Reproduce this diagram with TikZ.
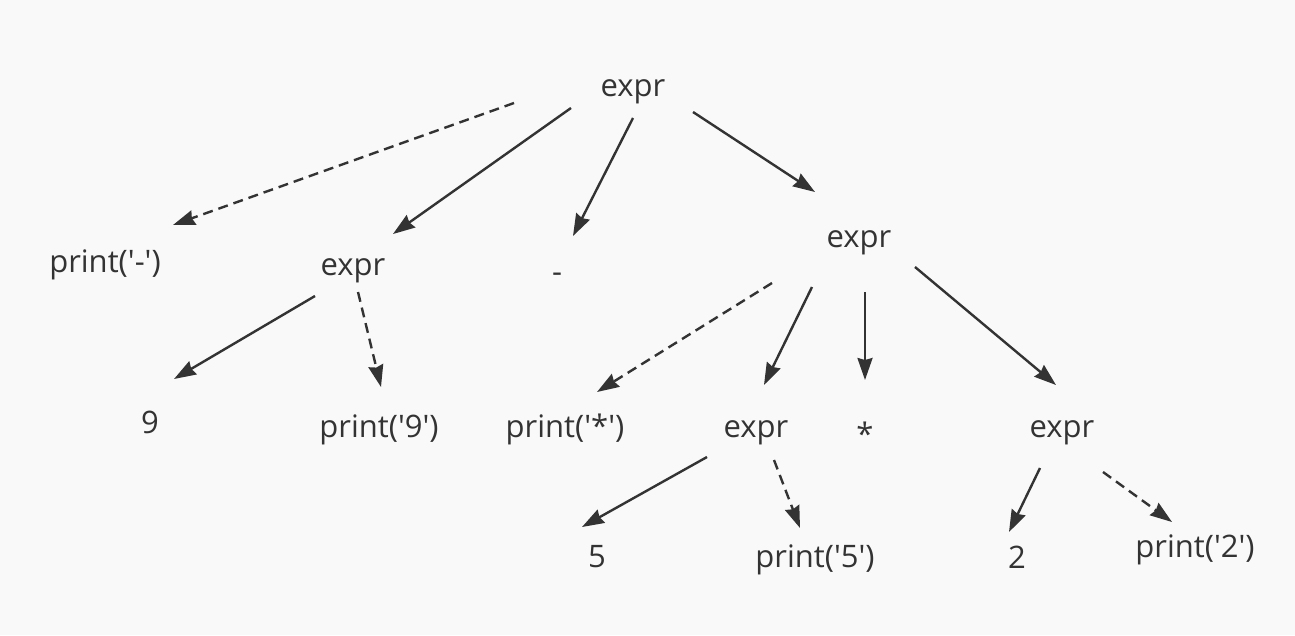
\documentclass[tikz,border=0pt]{standalone}
\usepackage{fontspec}
\setmainfont{Open Sans}[Ligatures=TeXOff]
\usetikzlibrary{arrows.meta}
\definecolor{paper}{RGB}{249,249,249}
\definecolor{ink}{RGB}{51,51,51}
\tikzset{
	sym/.style={anchor=base, inner sep=0pt, text=ink, font=\fontsize{31}{37}\selectfont},
	link/.style={->, draw=ink, line width=2.4pt},
	act/.style={link, dash pattern=on 10pt off 6pt}
}

\begin{document}
\begin{tikzpicture}[x=1pt, y=-1pt, >={Stealth[length=22pt, width=15pt, inset=2pt]}]
	\fill[paper] (0, 0) rectangle (1295, 635);
	% level 0 and 1
	\node[sym] (root) at (633, 96) {expr};
	\node[sym] (pm) at (105, 272) {print('-')};
	\node[sym] (eL) at (353, 275) {expr};
	\node[sym] (mi) at (557, 282) {-};
	\node[sym] (eR) at (859, 247) {expr};
	% level 2
	\node[sym] (n9) at (150, 433) {9};
	\node[sym] (p9) at (379, 437) {print('9')};
	\node[sym] (ps) at (565, 437) {print('*')};
	\node[sym] (eM) at (756, 437) {expr};
	\node[sym] (st) at (865, 445) {*};
	\node[sym] (eRR) at (1062, 437) {expr};
	% level 3
	\node[sym] (n5) at (597, 567) {5};
	\node[sym] (p5) at (815, 567) {print('5')};
	\node[sym] (n2) at (1017, 568) {2};
	\node[sym] (p2) at (1195, 557) {print('2')};
	% edges
	\draw[act] ([shift={(-119, 7)}]root.base) -- ([shift={(68, -47)}]pm.base);
	\draw[link] ([shift={(-62, 12)}]root.base) -- ([shift={(40, -41)}]eL.base);
	\draw[link] ([shift={(0, 22)}]root.base) -- ([shift={(16, -46)}]mi.base);
	\draw[link] ([shift={(60, 16)}]root.base) -- ([shift={(-44, -55)}]eR.base);
	\draw[link] ([shift={(-38, 21)}]eL.base) -- ([shift={(24, -54)}]n9.base);
	\draw[act] ([shift={(5, 17)}]eL.base) -- ([shift={(2, -50)}]p9.base);
	\draw[act] ([shift={(-87, 36)}]eR.base) -- ([shift={(32, -45)}]ps.base);
	\draw[link] ([shift={(-47, 40)}]eR.base) -- ([shift={(8, -52)}]eM.base);
	\draw[link] ([shift={(6, 45)}]eR.base) -- ([shift={(0, -65)}]st.base);
	\draw[link] ([shift={(56, 20)}]eR.base) -- ([shift={(-6, -52)}]eRR.base);
	\draw[link] ([shift={(-49, 20)}]eM.base) -- ([shift={(-15, -40)}]n5.base);
	\draw[act] ([shift={(18, 23)}]eM.base) -- ([shift={(-15, -39)}]p5.base);
	\draw[link] ([shift={(-22, 31)}]eRR.base) -- ([shift={(-8, -36)}]n2.base);
	\draw[act] ([shift={(41, 35)}]eRR.base) -- ([shift={(-23, -35)}]p2.base);
\end{tikzpicture}
\end{document}
